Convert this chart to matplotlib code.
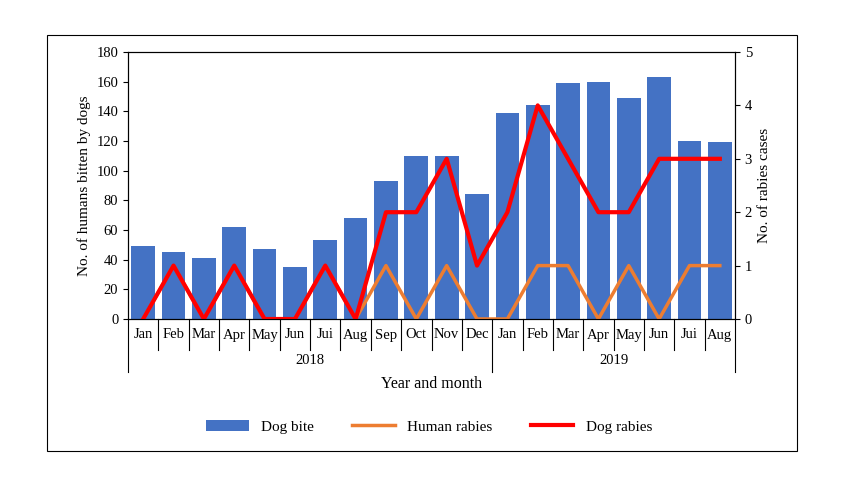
import matplotlib
matplotlib.use("Agg")
import matplotlib.pyplot as plt
from matplotlib.patches import Rectangle
import matplotlib.transforms as mt

plt.rcParams['font.family'] = ['Liberation Serif', 'DejaVu Serif']

months = ["Jan","Feb","Mar","Apr","May","Jun","Jui","Aug","Sep","Oct","Nov","Dec",
          "Jan","Feb","Mar","Apr","May","Jun","Jui","Aug"]
years = ["2018", "2019"]
dog_bite = [49,45,41,62,47,35,53,68,93,110,110,84,139,144,159,160,149,163,120,119]
human_rabies = [0,1,0,1,0,0,1,0,1,0,1,0,0,1,1,0,1,0,1,1]
dog_rabies = [0,1,0,1,0,0,1,0,2,2,3,1,2,4,3,2,2,3,3,3]

fig = plt.figure(figsize=(8.58, 4.82), dpi=100)
fig.patches.append(Rectangle((47/858, 1-451/482), 750/858, 416/482, transform=fig.transFigure,
                             fill=False, edgecolor='black', linewidth=0.8))
ax = fig.add_axes([128/858, 1-319/482, 607/858, 267/482])
x = list(range(len(months)))
b = ax.bar(x, dog_bite, width=0.78, color='#4472C4', label='Dog bite')
ax.set_xlim(-0.5, len(months)-0.5)
ax.set_ylim(0, 180)
ax.set_yticks(range(0, 181, 20))
ax.set_xticks([])
ax.set_ylabel('No. of humans bitten by dogs', fontsize=11)
ax2 = ax.twinx()
l1, = ax2.plot(x, human_rabies, color='#ED7D31', lw=2.5, label='Human rabies')
l2, = ax2.plot(x, dog_rabies, color='#FF0000', lw=3, label='Dog rabies')
ax2.set_ylim(0, 5)
ax2.set_ylabel('No. of rabies cases', fontsize=11)
for a in (ax, ax2):
    a.tick_params(labelsize=10.5, direction='out')
    for s in a.spines.values():
        s.set_linewidth(0.8)

tr = mt.blended_transform_factory(ax.transData, ax.transAxes)
h = 267
row1 = -31/h
row2 = -53/h
for i, m in enumerate(months):
    ax.text(i, -16/h, m, transform=tr, ha='center', va='center', fontsize=10.5)
for i in range(len(months)+1):
    xv = i - 0.5
    bottom = row2 if i in (0, 12, len(months)) else row1
    ax.plot([xv, xv], [0, bottom], transform=tr, color='black', lw=0.8, clip_on=False)
ax.text(5.5, -42/h, years[0], transform=tr, ha='center', va='center', fontsize=10.5)
ax.text(15.5, -42/h, years[1], transform=tr, ha='center', va='center', fontsize=10.5)
ax.text(0.5, -65/h, 'Year and month', transform=ax.transAxes, ha='center', va='center', fontsize=11.5)

fig.legend([b, l1, l2], ['Dog bite', 'Human rabies', 'Dog rabies'], loc='center',
           bbox_to_anchor=(0.5, 1-427/482), ncol=3, frameon=False, fontsize=11,
           handlelength=2.8, columnspacing=2.5)
fig.savefig('out.png', dpi=100)
